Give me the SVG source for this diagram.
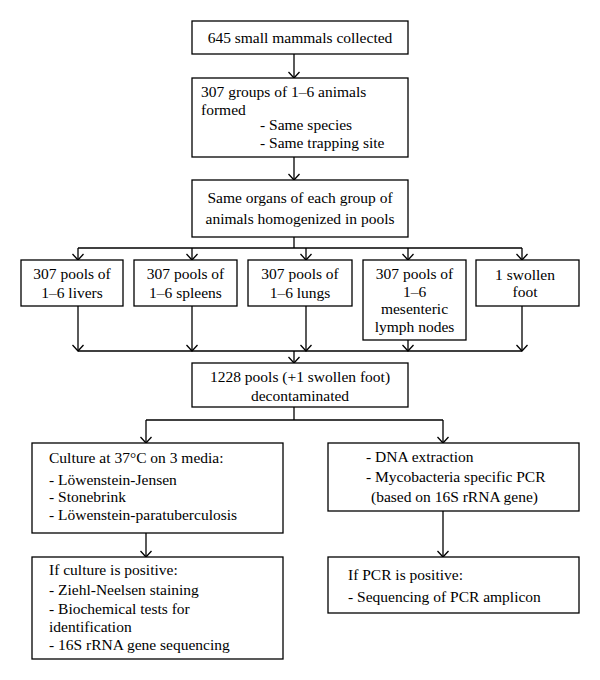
<svg xmlns="http://www.w3.org/2000/svg" width="600" height="680" viewBox="0 0 600 680">
<style>
rect{fill:#fff;stroke:#000;stroke-width:1.3}
text{font-family:"Liberation Serif","Times New Roman",serif;font-size:15.5px;fill:#000}
.c{text-anchor:middle}
#connectors line{stroke:#000;stroke-width:1.3;fill:none}
</style>
<defs>
<marker id="ah" viewBox="-8 -7 10 14" refX="0" refY="0" markerWidth="10" markerHeight="14" markerUnits="userSpaceOnUse" orient="auto">
<path d="M-6,-5.5 L0,0 L-6,5.5" fill="none" stroke="#000" stroke-width="1.3"/>
</marker>
</defs>
<rect width="600" height="680" style="fill:#fff;stroke:none"/>
<g id="connectors">
<line x1="294" y1="54" x2="294" y2="78" marker-end="url(#ah)"/>
<line x1="294" y1="157" x2="294" y2="180" marker-end="url(#ah)"/>
<line x1="294" y1="237" x2="294" y2="248"/>
<line x1="78" y1="248" x2="522" y2="248"/>
<line x1="78" y1="248" x2="78" y2="260" marker-end="url(#ah)"/>
<line x1="192" y1="248" x2="192" y2="260" marker-end="url(#ah)"/>
<line x1="306" y1="248" x2="306" y2="260" marker-end="url(#ah)"/>
<line x1="408" y1="248" x2="408" y2="260" marker-end="url(#ah)"/>
<line x1="522" y1="248" x2="522" y2="260" marker-end="url(#ah)"/>
<line x1="78" y1="306" x2="78" y2="351" marker-end="url(#ah)"/>
<line x1="192" y1="306" x2="192" y2="351" marker-end="url(#ah)"/>
<line x1="306" y1="306" x2="306" y2="351" marker-end="url(#ah)"/>
<line x1="408" y1="340" x2="408" y2="351" marker-end="url(#ah)"/>
<line x1="522" y1="306" x2="522" y2="351" marker-end="url(#ah)"/>
<line x1="78" y1="351" x2="522" y2="351"/>
<line x1="294" y1="351" x2="294" y2="363" marker-end="url(#ah)"/>
<line x1="294" y1="407" x2="294" y2="420"/>
<line x1="146" y1="420" x2="443" y2="420"/>
<line x1="146" y1="420" x2="146" y2="443" marker-end="url(#ah)"/>
<line x1="443" y1="420" x2="443" y2="443" marker-end="url(#ah)"/>
<line x1="146" y1="533" x2="146" y2="557" marker-end="url(#ah)"/>
<line x1="443" y1="511" x2="443" y2="557" marker-end="url(#ah)"/>
</g>
<g id="n1">
<rect x="192" y="21" width="216" height="33"/>
<text class="c" x="300" y="43">645 small mammals collected</text>
</g>
<g id="n2">
<rect x="192" y="78" width="216" height="79"/>
<text x="201" y="97">307 groups of 1–6 animals</text>
<text x="201" y="115">formed</text>
<text x="260" y="130">- Same species</text>
<text x="260" y="148">- Same trapping site</text>
</g>
<g id="n3">
<rect x="192" y="180" width="216" height="57"/>
<text class="c" x="300" y="203">Same organs of each group of</text>
<text class="c" x="300" y="224">animals homogenized in pools</text>
</g>
<g id="n4">
<rect x="21" y="260" width="102" height="46"/>
<text class="c" x="72" y="279">307 pools of</text>
<text class="c" x="72" y="298">1–6 livers</text>
</g>
<g id="n5">
<rect x="134" y="260" width="103" height="46"/>
<text class="c" x="185.5" y="279">307 pools of</text>
<text class="c" x="185.5" y="298">1–6 spleens</text>
</g>
<g id="n6">
<rect x="248" y="260" width="104" height="46"/>
<text class="c" x="300" y="279">307 pools of</text>
<text class="c" x="300" y="298">1–6 lungs</text>
</g>
<g id="n7">
<rect x="363" y="260" width="103" height="80"/>
<text class="c" x="414.5" y="279">307 pools of</text>
<text class="c" x="414.5" y="297">1–6</text>
<text class="c" x="414.5" y="314">mesenteric</text>
<text class="c" x="414.5" y="332">lymph nodes</text>
</g>
<g id="n8">
<rect x="476" y="260" width="103" height="46"/>
<text class="c" x="525" y="280">1 swollen</text>
<text class="c" x="525" y="297">foot</text>
</g>
<g id="n9">
<rect x="192" y="363" width="216" height="44"/>
<text class="c" x="300" y="382">1228 pools (+1 swollen foot)</text>
<text class="c" x="300" y="401">decontaminated</text>
</g>
<g id="n10">
<rect x="32" y="443" width="251" height="90"/>
<text x="49" y="463">Culture at 37°C on 3 media:</text>
<text x="49" y="485">- Löwenstein-Jensen</text>
<text x="49" y="502">- Stonebrink</text>
<text x="49" y="520">- Löwenstein-paratuberculosis</text>
</g>
<g id="n11">
<rect x="328" y="443" width="251" height="68"/>
<text x="366" y="462">- DNA extraction</text>
<text x="366" y="482">- Mycobacteria specific PCR</text>
<text x="371" y="502">(based on 16S rRNA gene)</text>
</g>
<g id="n12">
<rect x="32" y="557" width="251" height="102"/>
<text x="49" y="575">If culture is positive:</text>
<text x="49" y="595">- Ziehl-Neelsen staining</text>
<text x="49" y="614">- Biochemical tests for</text>
<text x="49" y="632">identification</text>
<text x="49" y="650">- 16S rRNA gene sequencing</text>
</g>
<g id="n13">
<rect x="328" y="557" width="251" height="56"/>
<text x="348" y="580">If PCR is positive:</text>
<text x="348" y="602">- Sequencing of PCR amplicon</text>
</g>
</svg>
